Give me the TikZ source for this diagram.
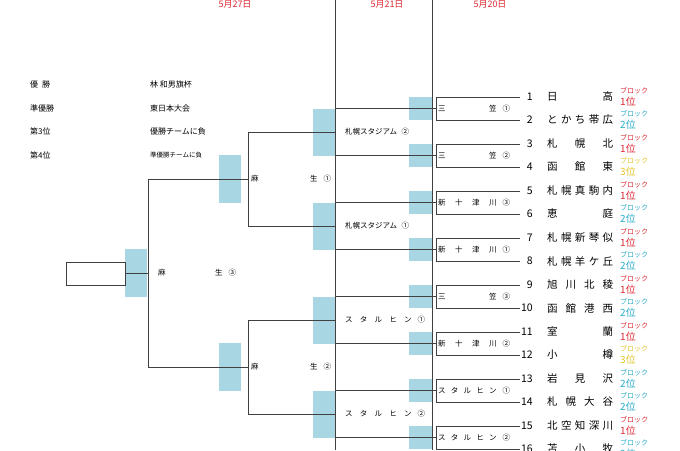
\documentclass[tikz,border=0pt]{standalone}
\usepackage{fontspec}
\setmainfont{Noto Sans CJK JP}
\definecolor{bl}{RGB}{168,214,226}
\definecolor{rd}{RGB}{220,40,50}
\definecolor{cy}{RGB}{40,170,200}
\definecolor{ye}{RGB}{225,195,40}
\begin{document}
\begin{tikzpicture}[x=1pt,y=-1pt,
 ln/.style={draw=black!75,line width=0.7pt},
 lab/.style={font=\fontsize{7.5}{8}\selectfont,anchor=west,inner sep=0},
 tm/.style={font=\fontsize{10.5}{11}\selectfont,inner sep=0},
 blk/.style={font=\fontsize{7}{7}\selectfont,inner sep=0,anchor=west},
 pl/.style={font=\fontsize{10}{10}\selectfont,inner sep=0,anchor=west},
 dt/.style={font=\fontsize{9}{10}\selectfont,text=rd,inner sep=0},
 leg/.style={font=\fontsize{8}{9}\selectfont,inner sep=0,anchor=west}]
\useasboundingbox (0,0) rectangle (680,450);
\clip (0,0) rectangle (680,450);
% dates
\node[dt] (d1) at (235,4) {5月27日};
\node[dt] (d2) at (387,4) {5月21日};
\node[dt] (d3) at (490,4) {5月20日};
% verticals
\draw[ln] (335,0) -- (335,450);
\draw[ln] (432,0) -- (432,450);
% legend
\node[leg] (l1) at (30,84) {優\hspace{0.5em}勝};
\node[leg] (l2) at (30,108) {準優勝};
\node[leg] (l3) at (30,131) {第3位};
\node[leg] (l4) at (30,155) {第4位};
\node[leg] (r1) at (150,84) {林 和男旗杯};
\node[leg] (r2) at (150,108) {東日本大会};
\node[leg] (r3) at (150,131) {優勝チームに負};
\node[leg,font=\fontsize{6.5}{7}\selectfont] (r4) at (150,155) {準優勝チームに負};
% round 1
\foreach \p/\t in {0/{三\hfill 笠\hspace{0.8em}①},1/{三\hfill 笠\hspace{0.8em}②},2/{新\hfill 十\hfill 津\hfill 川\hspace{0.8em}③},3/{新\hfill 十\hfill 津\hfill 川\hspace{0.8em}①},4/{三\hfill 笠\hspace{0.8em}③},5/{新\hfill 十\hfill 津\hfill 川\hspace{0.8em}②},6/{ス\hfill タ\hfill ル\hfill ヒ\hfill ン\hspace{0.8em}①},7/{ス\hfill タ\hfill ル\hfill ヒ\hfill ン\hspace{0.8em}②}}{
 \pgfmathsetmacro\ta{97+47*\p}
 \pgfmathsetmacro\mi{108.5+47*\p}
 \fill[bl] (409,\ta) rectangle (432,\ta+23);
 \draw[ln] (520,\ta) -- (436,\ta) -- (436,\ta+23) -- (520,\ta+23);
 \draw[ln] (335,\mi) -- (436,\mi);
 \node[lab,text width=72pt] (w\p) at (438,\mi) {\t};
}
% round 2
\foreach \p/\t in {0/{札幌スタジアム\hspace{0.6em}②},1/{札幌スタジアム\hspace{0.6em}①},2/{ス\hfill タ\hfill ル\hfill ヒ\hfill ン\hspace{0.8em}①},3/{ス\hfill タ\hfill ル\hfill ヒ\hfill ン\hspace{0.8em}②}}{
 \pgfmathsetmacro\ta{108.5+94*\p}
 \pgfmathsetmacro\mi{132+94*\p}
 \fill[bl] (313,\ta) rectangle (335,\ta+47);
 \draw[ln] (335,\mi) -- (248,\mi);
 \node[lab,text width=80pt] (s\p) at (345,\mi) {\t};
}
% round 3
\foreach \p/\t in {0/{麻\hfill 生\hspace{0.8em}①},1/{麻\hfill 生\hspace{0.8em}②}}{
 \pgfmathsetmacro\ta{132+188*\p}
 \pgfmathsetmacro\mi{179+188*\p}
 \fill[bl] (219,\mi-24) rectangle (241,\mi+24);
 \draw[ln] (248,\ta) -- (248,\ta+94);
 \draw[ln] (248,\mi) -- (148,\mi);
 \node[lab,text width=80pt] (q\p) at (251,\mi) {\t};
}
% final
\fill[bl] (125,249) rectangle (147,297);
\draw[ln] (148,179) -- (148,367);
\draw[ln] (125,273) -- (148,273);
\node[ln,draw,minimum width=59pt,minimum height=23pt,inner sep=0] (fin) at (95.5,273.5) {};
\node[lab,text width=78pt] (ch) at (158,273) {麻\hfill 生\hspace{0.8em}③};
% teams
\foreach \i/\n/\c/\r in {1/{日\hfill 高}/rd/1,2/{と\hfill か\hfill ち\hfill 帯\hfill 広}/cy/2,3/{札\hfill 幌\hfill 北}/rd/1,4/{函\hfill 館\hfill 東}/ye/3,5/{札\hfill 幌\hfill 真\hfill 駒\hfill 内}/rd/1,6/{恵\hfill 庭}/cy/2,7/{札\hfill 幌\hfill 新\hfill 琴\hfill 似}/rd/1,8/{札\hfill 幌\hfill 羊\hfill ケ\hfill 丘}/cy/2,9/{旭\hfill 川\hfill 北\hfill 稜}/rd/1,10/{函\hfill 館\hfill 港\hfill 西}/cy/2,11/{室\hfill 蘭}/rd/1,12/{小\hfill 樽}/ye/3,13/{岩\hfill 見\hfill 沢}/cy/2,14/{札\hfill 幌\hfill 大\hfill 谷}/cy/2,15/{北\hfill 空\hfill 知\hfill 深\hfill 川}/rd/1,16/{苫\hfill 小\hfill 牧}/cy/2}{
 \pgfmathsetmacro\y{97+47*int((\i-1)/2)+23*mod(\i-1,2)}
 \node[tm,anchor=east] (n\i) at (533,\y) {\i};
 \node[tm,anchor=west,text width=66pt] (t\i) at (547,\y) {\n};
 \node[blk,text=\c] (b\i) at (620,\y-6) {ブロック};
 \node[pl,text=\c] (p\i) at (620,\y+5) {{\r}位};
}
\end{tikzpicture}
\end{document}
